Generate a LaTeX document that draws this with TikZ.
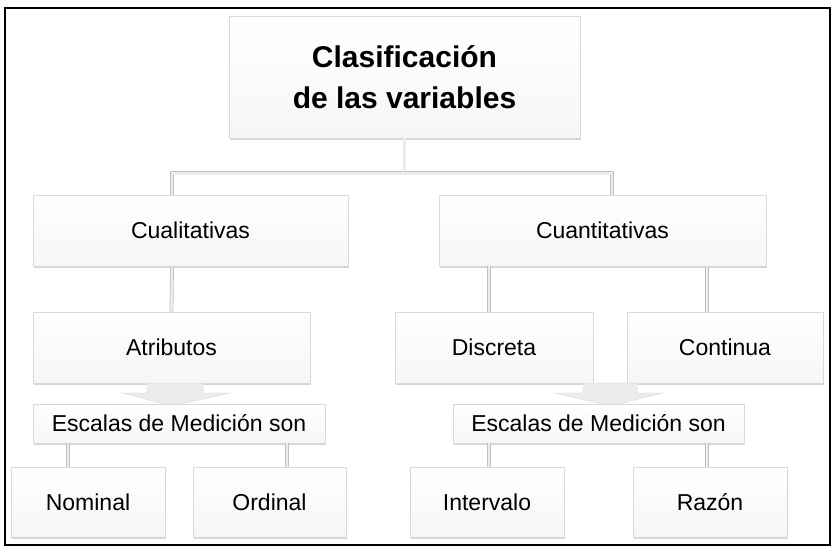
\documentclass[tikz,border=0pt]{standalone}
\usepackage{fontspec}
\setmainfont{Liberation Sans}
\usetikzlibrary{shadows,calc}
\begin{document}
\begin{tikzpicture}[x=1pt,y=-1pt,
  box/.style={draw=gray!30, line width=0.6pt, top color=white, bottom color=gray!7,
    drop shadow={shadow xshift=1pt, shadow yshift=-2pt, fill=gray!60, opacity=0.55},
    inner sep=0pt, align=center, font=\fontsize{23}{27}\selectfont},
  conn/.style={draw=gray!50, line width=0.7pt, double=gray!15, double distance=2.4pt},
  barrow/.style={fill=gray!15, draw=gray!25, line width=0.5pt},
  frame/.style={draw=black, line width=2pt}]
\useasboundingbox (0,0) rectangle (839,552);
\fill[white] (0,0) rectangle (839,552);
\draw[frame] (5,8) rectangle (830,545);

% nodes
\node[box, minimum width=351pt, minimum height=122pt, font=\fontsize{30}{41}\selectfont\bfseries] (title) at (404.5,77) {Clasificación\\de las variables};
\node[box, minimum width=315pt, minimum height=71pt] (cual) at (190.5,230.5) {Cualitativas};
\node[box, minimum width=327pt, minimum height=71pt] (cuan) at (602.5,230.5) {Cuantitativas};
\node[box, minimum width=277pt, minimum height=71pt] (atr) at (171.5,347.5) {Atributos};
\node[box, minimum width=198pt, minimum height=71pt] (disc) at (494,347.5) {Discreta};
\node[box, minimum width=196pt, minimum height=71pt] (cont) at (725,347.5) {Continua};

% block arrows
\path[barrow] (147,383) -- (203,383) -- (203,393) -- (230,393) -- (172,406) -- (122,393) -- (147,393) -- cycle;
\path[barrow] (583,383) -- (637,383) -- (637,393) -- (663,393) -- (610,406) -- (555,393) -- (583,393) -- cycle;

\node[box, minimum width=292pt, minimum height=39pt] (escL) at (179,423.5) {Escalas de Medición son};
\node[box, minimum width=291pt, minimum height=39pt] (escR) at (598.5,423.5) {Escalas de Medición son};
\node[box, minimum width=154pt, minimum height=70pt] (nom) at (88,502) {Nominal};
\node[box, minimum width=153pt, minimum height=70pt] (ord) at (269.5,502) {Ordinal};
\node[box, minimum width=154pt, minimum height=70pt] (int) at (487,502) {Intervalo};
\node[box, minimum width=154pt, minimum height=70pt] (raz) at (710,502) {Razón};

% connectors
\coordinate (jL) at ([xshift=-18.5pt]cual.north);
\coordinate (jR) at ([xshift=9.5pt]cuan.north);
\draw[conn] (title.south) -- ++(0,35) -| (jL);
\draw[conn] (title.south) ++(0,35) -| (jR);
\draw[conn] (jL |- cual.south) -- (atr.north);
\draw[conn] ([xshift=-113.5pt]cuan.south) -- ([xshift=-5pt]disc.north);
\draw[conn] ([xshift=104.5pt]cuan.south) -- ([xshift=-18pt]cont.north);
\draw[conn] ([xshift=-20pt]nom.north |- escL.south) -- ([xshift=-20pt]nom.north);
\draw[conn] ([xshift=17.5pt]ord.north |- escL.south) -- ([xshift=17.5pt]ord.north);
\draw[conn] ([xshift=2pt]int.north |- escR.south) -- ([xshift=2pt]int.north);
\draw[conn] ([xshift=-3pt]raz.north |- escR.south) -- ([xshift=-3pt]raz.north);
\end{tikzpicture}
\end{document}
